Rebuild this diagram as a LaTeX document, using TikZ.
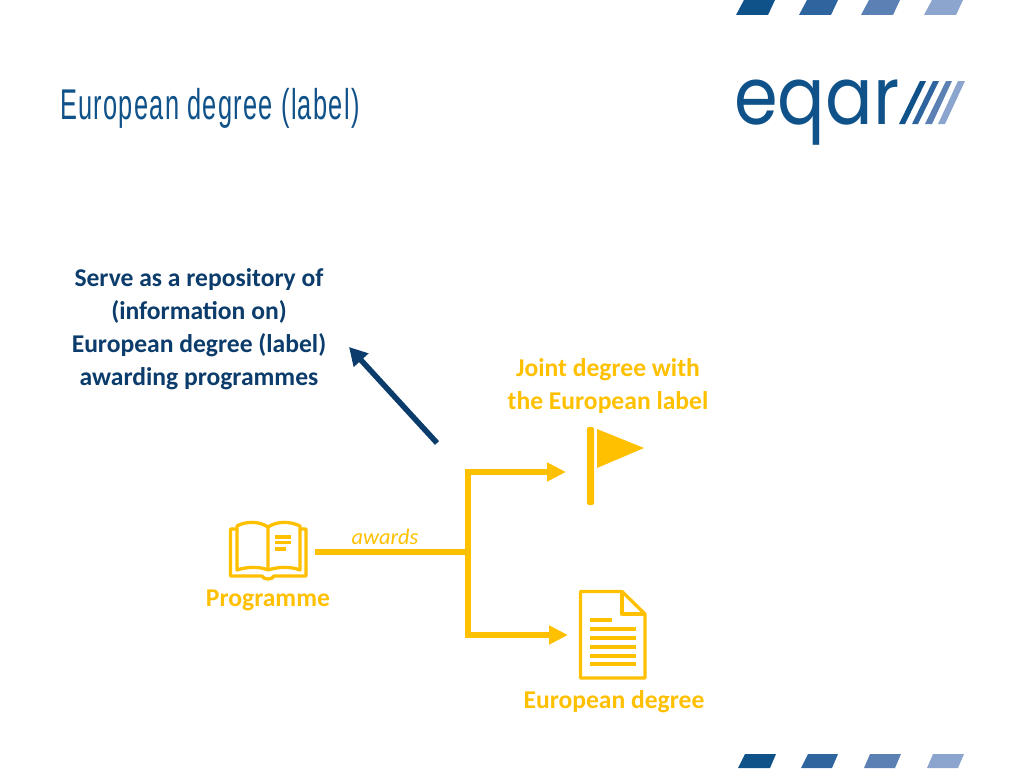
\documentclass[tikz,border=0pt]{standalone}
\usepackage{fontspec}
\setmainfont{Carlito}
\newfontfamily\titlefont[FakeStretch=0.59,LetterSpace=3]{Liberation Sans}
\newfontfamily\logofont[FakeStretch=0.88]{Poppins}
\usetikzlibrary{arrows.meta}
\definecolor{gold}{HTML}{FFC000}
\definecolor{navy}{HTML}{0B3C6B}
\definecolor{eqA}{HTML}{0F5189}
\definecolor{eqB}{HTML}{2E659F}
\definecolor{eqC}{HTML}{5B81B4}
\definecolor{eqD}{HTML}{8CA5CE}
\tikzset{
  goldline/.style={draw=gold,line width=6pt},
  goldarrow/.style={goldline,-{Triangle[length=19pt,width=18pt]}},
  navyarrow/.style={draw=navy,line width=5.5pt,-{Triangle[length=18pt,width=19pt]}},
  boldgold/.style={text=gold,font=\fontsize{25.6}{33}\selectfont\bfseries,align=center,inner sep=0pt},
  boldnavy/.style={text=navy,font=\fontsize{25.6}{33}\selectfont\bfseries,align=center,inner sep=0pt},
  icon/.style={draw=gold,line width=3.3pt,line join=round},
}
\begin{document}
\begin{tikzpicture}[x=1pt,y=-1pt]
\useasboundingbox (0,0) rectangle (1024,768);
\fill[white] (0,0) rectangle (1024,768);
% top stripes
\fill[eqA] (736,15) -- (768,15) -- (775,0) -- (744,0) -- cycle;
\fill[eqB] (799,15) -- (831,15) -- (838,0) -- (807,0) -- cycle;
\fill[eqC] (861,15) -- (893,15) -- (900,0) -- (869,0) -- cycle;
\fill[eqD] (924,15) -- (956,15) -- (963,0) -- (932,0) -- cycle;
% bottom stripes
\fill[eqA] (738,768) -- (770,768) -- (776,754) -- (745,754) -- cycle;
\fill[eqB] (801,768) -- (832,768) -- (838,754) -- (808,754) -- cycle;
\fill[eqC] (864,768) -- (895,768) -- (901,754) -- (870,754) -- cycle;
\fill[eqD] (927,768) -- (958,768) -- (964,754) -- (933,754) -- cycle;
% title
\node[anchor=base west,inner sep=0pt,text=eqA,font=\fontsize{43}{45}\selectfont\titlefont] (title) at (60,119) {European degree (label)};
% logo
\node[anchor=base west,inner sep=0pt,text=eqA,font=\fontsize{80}{80}\selectfont\logofont] (logo) at (734,124) {eqar};
\fill[eqA] (899,124) -- (905,124) -- (926,81) -- (920,81) -- cycle;
\fill[eqB] (912,124) -- (918,124) -- (939,81) -- (933,81) -- cycle;
\fill[eqC] (925,124) -- (932,124) -- (952,81) -- (946,81) -- cycle;
\fill[eqD] (938,124) -- (945,124) -- (965,81) -- (958,81) -- cycle;
% navy text and arrow
\node[boldnavy] (serve) at (199,329) {Serve as a repository of\\(information on)\\European degree (label)\\awarding programmes};
\coordinate (from) at (437,443);
\coordinate (to) at (349,347);
\draw[navyarrow] (from) -- (to);
% labels
\node[boldgold] (joint) at (608,386) {Joint degree with\\the European label};
\node[boldgold] (prog) at (268,600) {Programme};
\node[boldgold] (eudeg) at (614,702) {European degree};
\node[text=gold,inner sep=0pt,font=\fontsize{22.3}{26}\selectfont\itshape] (awards) at (385,537) {awards};
% book icon
\draw[icon] (268,570) -- (268,527) .. controls (259,521) and (246,521) .. (237,526) -- (237,570) .. controls (246,567) and (259,566) .. (268,570);
\draw[icon] (268,527) .. controls (277,521) and (290,521) .. (300,526) -- (300,570) .. controls (290,566) and (277,567) .. (268,570);
\draw[icon] (237,529) -- (230.5,529) -- (230.5,576) -- (262,576) .. controls (263,580) and (273,580) .. (274,576) -- (306,576) -- (306,529) -- (300,529);
\draw[icon] (275,537) -- (291,537) (275,542.5) -- (291,542.5) (275,549) -- (286,549);
% flag icon
\fill[gold,rounded corners=2pt] (587,505) -- (587,427) -- (594,427) -- (594,505) -- cycle;
\fill[gold] (597,429) -- (644,448) -- (597,468) -- cycle;
% document icon
\draw[icon] (622,591.5) -- (580.5,591.5) -- (580.5,678) -- (645,678) -- (645,614) -- cycle;
\draw[icon] (622,591.5) -- (622,614) -- (645,614);
\draw[icon] (590,620) -- (612,620) (590,629) -- (636,629) (590,638) -- (636,638) (590,647) -- (636,647) (590,656) -- (636,656) (590,664) -- (636,664);
% connectors
\coordinate (bookport) at (315,552);
\coordinate (junction) at (468,552);
\coordinate (flagport) at (566,472);
\coordinate (docport) at (568,635);
\draw[goldline] (bookport) -- (junction);
\draw[goldarrow] (junction) |- (flagport);
\draw[goldarrow] (junction) |- (docport);
\end{tikzpicture}
\end{document}
